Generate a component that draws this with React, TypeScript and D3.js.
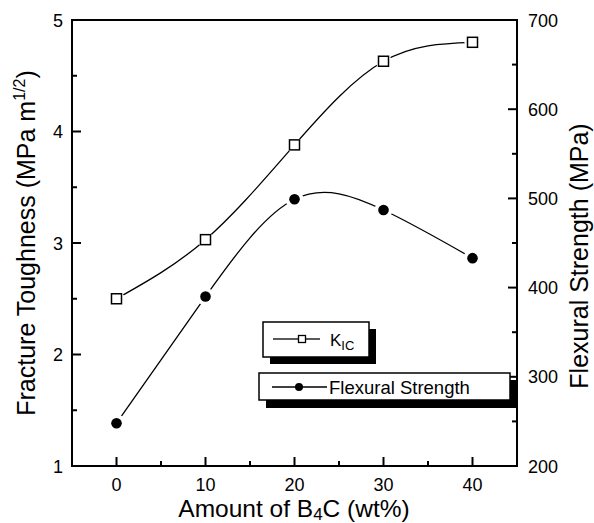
import React from "react";
import * as d3 from "d3";

const amounts = [0, 10, 20, 30, 40];
const kic = [2.5, 3.03, 3.88, 4.63, 4.8];
const flexural = [248, 390, 499, 487, 433];
const xTicks = [0, 10, 20, 30, 40];
const xMinor = [-5, 5, 15, 25, 35, 45];
const leftTicks = [1, 2, 3, 4, 5];
const leftMinor = [1.5, 2.5, 3.5, 4.5];
const rightTicks = [200, 300, 400, 500, 600, 700];
const rightMinor = [250, 350, 450, 550, 650];

const W = 594, H = 523;
const M = { left: 72, right: 517, top: 20, bottom: 466 };
const FONT = "'Liberation Sans', Arial, Helvetica, sans-serif";

export default function App() {
  const x = d3.scaleLinear().domain([-5, 45]).range([M.left, M.right]);
  const yL = d3.scaleLinear().domain([1, 5]).range([M.bottom, M.top]);
  const yR = d3.scaleLinear().domain([200, 700]).range([M.bottom, M.top]);

  const kicPts: [number, number][] = amounts.map((a, i) => [x(a), yL(kic[i])]);
  const flxPts: [number, number][] = amounts.map((a, i) => [x(a), yR(flexural[i])]);
  const line = d3.line().curve(d3.curveNatural);

  const major = 9, minor = 5;

  return (
    <svg width={W} height={H} style={{ position: "absolute", left: 0, top: 0, background: "#fff" }} fontFamily={FONT}>
      <defs>
        <mask id="mK" maskUnits="userSpaceOnUse" x={0} y={0} width={W} height={H}>
          <rect x={0} y={0} width={W} height={H} fill="#fff" />
          {kicPts.map((p, i) => <circle key={i} cx={p[0]} cy={p[1]} r={8} fill="#000" />)}
        </mask>
        <mask id="mF" maskUnits="userSpaceOnUse" x={0} y={0} width={W} height={H}>
          <rect x={0} y={0} width={W} height={H} fill="#fff" />
          {flxPts.map((p, i) => <circle key={i} cx={p[0]} cy={p[1]} r={9} fill="#000" />)}
        </mask>
      </defs>

      {/* frame */}
      <rect x={M.left} y={M.top} width={M.right - M.left} height={M.bottom - M.top} fill="none" stroke="#000" strokeWidth={2} />

      {/* bottom ticks */}
      {xTicks.map((t) => (
        <g key={"xt" + t}>
          <line x1={x(t)} x2={x(t)} y1={M.bottom} y2={M.bottom - major} stroke="#000" strokeWidth={2} />
          <text x={x(t)} y={491} fontSize={18} textAnchor="middle">{t}</text>
        </g>
      ))}
      {xMinor.map((t) => (
        <line key={"xm" + t} x1={x(t)} x2={x(t)} y1={M.bottom} y2={M.bottom - minor} stroke="#000" strokeWidth={2} />
      ))}

      {/* left ticks */}
      {leftTicks.map((t) => (
        <g key={"lt" + t}>
          <line x1={M.left} x2={M.left + major} y1={yL(t)} y2={yL(t)} stroke="#000" strokeWidth={2} />
          <text x={63} y={yL(t) + 6.5} fontSize={18} textAnchor="end">{t}</text>
        </g>
      ))}
      {leftMinor.map((t) => (
        <line key={"lm" + t} x1={M.left} x2={M.left + minor} y1={yL(t)} y2={yL(t)} stroke="#000" strokeWidth={2} />
      ))}

      {/* right ticks */}
      {rightTicks.map((t) => (
        <g key={"rt" + t}>
          <line x1={M.right} x2={M.right - major} y1={yR(t)} y2={yR(t)} stroke="#000" strokeWidth={2} />
          <text x={528} y={yR(t) + 6.5} fontSize={18} textAnchor="start">{t}</text>
        </g>
      ))}
      {rightMinor.map((t) => (
        <line key={"rm" + t} x1={M.right} x2={M.right - minor} y1={yR(t)} y2={yR(t)} stroke="#000" strokeWidth={2} />
      ))}

      {/* axis titles */}
      <text x={294} y={517} fontSize={24.5} textAnchor="middle">
        Amount of B<tspan fontSize={17} dy={3}>4</tspan><tspan dy={-3}>C (wt%)</tspan>
      </text>
      <text transform="translate(35,243) rotate(-90)" fontSize={25} textAnchor="middle">
        Fracture Toughness (MPa m<tspan fontSize={16} dy={-10}>1/2</tspan><tspan dy={10}>)</tspan>
      </text>
      <text transform="translate(588,256) rotate(-90)" fontSize={25} textAnchor="middle">
        Flexural Strength (MPa)
      </text>

      {/* data lines */}
      <path d={line(kicPts) || ""} fill="none" stroke="#000" strokeWidth={1.3} mask="url(#mK)" />
      <path d={line(flxPts) || ""} fill="none" stroke="#000" strokeWidth={1.3} mask="url(#mF)" />

      {kicPts.map((p, i) => (
        <rect key={"k" + i} x={p[0] - 5} y={p[1] - 5} width={10} height={10} fill="#fff" stroke="#000" strokeWidth={1.5} />
      ))}
      {flxPts.map((p, i) => (
        <circle key={"f" + i} cx={p[0]} cy={p[1]} r={5.3} fill="#000" />
      ))}

      {/* legend 1 */}
      <rect x={270} y={329} width={106} height={35} fill="#000" />
      <rect x={263} y={322} width={106} height={35} fill="#fff" stroke="#000" strokeWidth={1.5} />
      <line x1={273} x2={298} y1={339} y2={339} stroke="#000" strokeWidth={1.3} />
      <line x1={306} x2={320} y1={339} y2={339} stroke="#000" strokeWidth={1.3} />
      <rect x={298.5} y={335.5} width={7} height={7} fill="#fff" stroke="#000" strokeWidth={1.3} />
      <text x={330} y={346} fontSize={17}>
        K<tspan fontSize={13} dy={4}>IC</tspan>
      </text>

      {/* legend 2 */}
      <rect x={266} y={380} width={251} height={28} fill="#000" />
      <rect x={259} y={373} width={251} height={27} fill="#fff" stroke="#000" strokeWidth={1.5} />
      <line x1={272} x2={327} y1={387} y2={387} stroke="#000" strokeWidth={1.3} />
      <circle cx={299} cy={387} r={4} fill="#000" />
      <text x={329} y={393.5} fontSize={18.5}>Flexural Strength</text>
    </svg>
  );
}
